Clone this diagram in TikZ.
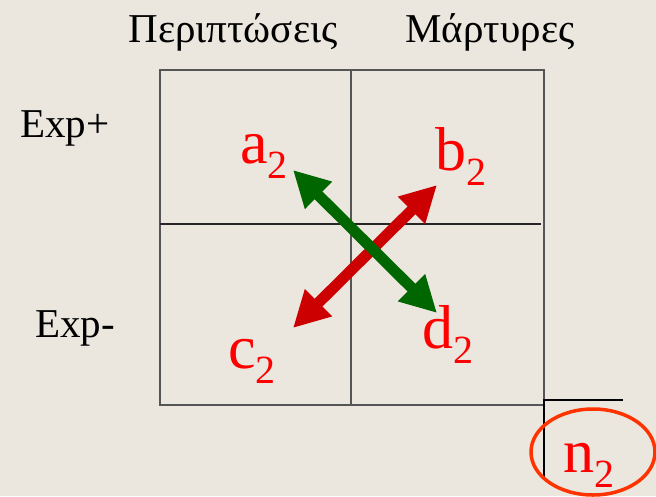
\documentclass[tikz,border=0pt]{standalone}
\usepackage{fontspec}
\setmainfont{Liberation Serif}
\usetikzlibrary{arrows.meta}
\definecolor{paper}{HTML}{EBE7DF}
\definecolor{labred}{HTML}{FF0000}
\definecolor{arrred}{HTML}{CC0000}
\definecolor{arrgreen}{HTML}{006600}
\definecolor{ringred}{HTML}{FF3300}
\definecolor{gridgray}{HTML}{555555}
\newcommand{\sublbl}[1]{#1\raisebox{-15pt}{\fontsize{40}{44}\selectfont 2}}
\tikzset{
  head/.style={font=\fontsize{41}{49}\selectfont, anchor=base, inner sep=0pt},
  rowlbl/.style={font=\fontsize{41}{49}\selectfont, anchor=base west, inner sep=0pt},
  cell/.style={text=labred, font=\fontsize{62}{70}\selectfont, anchor=base west, inner sep=0pt},
  dbl/.style={line width=11pt, {Triangle[length=36pt,width=36pt]}-{Triangle[length=36pt,width=36pt]}},
}
\begin{document}
\begin{tikzpicture}[x=1pt,y=-1pt]
    \useasboundingbox (0,0) rectangle (656,496);
    \fill[paper] (0,0) rectangle (656,496);

    % πίνακας 2x2
    \draw[gridgray, line width=1.6pt] (160,70) rectangle (544,405);
    \draw[gridgray, line width=1.6pt] (351,70) -- (351,405);
    \draw[black!85, line width=1.6pt] (160,224) -- (541,224);

    % επικεφαλίδες
    \node[head] (cases) at (233,42) {Περιπτώσεις};
    \node[head] (wit) at (490,42) {Μάρτυρες};
    \node[rowlbl] (expp) at (20,137) {Exp+};
    \node[rowlbl] (expm) at (35,337) {Exp-};

    % κελιά
    \node[cell] (a2) at (240,163) {\sublbl{a}};
    \node[cell] (b2) at (435,170) {\sublbl{b}};
    \node[cell] (c2) at (228,368) {\sublbl{c}};
    \node[cell] (d2) at (422,348) {\sublbl{d}};

    % βέλη
    \coordinate (rtop) at (437,185);
    \coordinate (rbot) at (293,328);
    \coordinate (gtop) at (293,170);
    \coordinate (gbot) at (437,313);
    \draw[dbl, arrred] (rbot) -- (rtop);
    \draw[dbl, arrgreen] (gtop) -- (gbot);

    % σύνολο
    \draw[black, line width=2pt] (623,400) -- (544,400) -- (544,477);
    \node[cell] (n2) at (563,472) {\sublbl{n}};
    \draw[ringred, line width=3.5pt] (593,452) ellipse [x radius=62, y radius=43];
\end{tikzpicture}
\end{document}
